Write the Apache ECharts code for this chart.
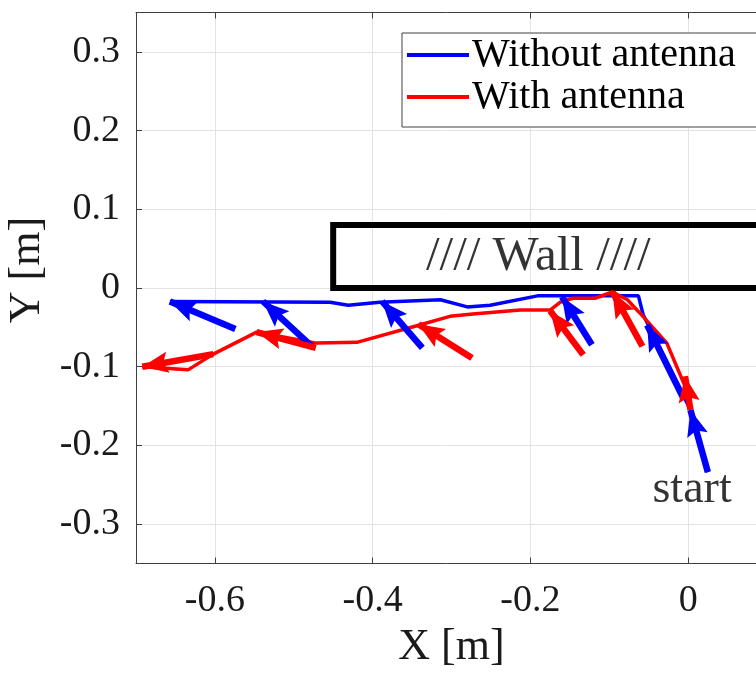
<!DOCTYPE html>
<html>
<head>
<meta charset="utf-8">
<title>Trajectory near wall</title>
<script src="https://cdn.jsdelivr.net/npm/echarts@6/dist/echarts.min.js"></script>
<style>
  html, body { margin: 0; padding: 0; background: #ffffff; }
  #chart { width: 756px; height: 675px; }
</style>
</head>
<body>
<div id="chart"></div>
<script>
// Axis ticks
const xTicks = [-0.6, -0.4, -0.2, 0];
const yTicks = [-0.3, -0.2, -0.1, 0, 0.1, 0.2, 0.3];

// Series names
const seriesNames = ['Without antenna', 'With antenna'];

// Walked path without antenna [x, y] in metres
const pathWithout = [
  [0.025, -0.234], [0.003, -0.155], [-0.057, -0.034], [-0.063, -0.010],
  [-0.162, -0.010], [-0.191, -0.010], [-0.251, -0.022], [-0.280, -0.024],
  [-0.314, -0.015], [-0.391, -0.018], [-0.431, -0.022], [-0.454, -0.018],
  [-0.657, -0.017]
];

// Walked path with antenna [x, y] in metres
const pathWith = [
  [0.003, -0.155], [-0.003, -0.127], [-0.027, -0.070], [-0.061, -0.032],
  [-0.077, -0.015], [-0.096, -0.005], [-0.118, -0.013], [-0.146, -0.013],
  [-0.162, -0.018], [-0.175, -0.028], [-0.213, -0.028], [-0.273, -0.033],
  [-0.302, -0.036], [-0.344, -0.048], [-0.420, -0.069], [-0.471, -0.070],
  [-0.547, -0.056], [-0.602, -0.084], [-0.634, -0.104], [-0.692, -0.100]
];

// Heading arrows [tailX, tailY, headX, headY]
const arrowsWithout = [
  [-0.574, -0.052, -0.657, -0.017],
  [-0.475, -0.076, -0.539, -0.017],
  [-0.337, -0.076, -0.388, -0.017],
  [-0.122, -0.072, -0.160, -0.011],
  [-0.006, -0.140, -0.052, -0.047],
  [0.025, -0.234, 0.003, -0.155]
];
const arrowsWith = [
  [-0.602, -0.084, -0.692, -0.100],
  [-0.472, -0.076, -0.547, -0.056],
  [-0.274, -0.089, -0.342, -0.046],
  [-0.133, -0.085, -0.175, -0.029],
  [-0.058, -0.074, -0.096, -0.005],
  [0.003, -0.155, -0.004, -0.112]
];

// Wall outline (open on the right) and annotations
const wallOutline = [[0.2, 0], [-0.45, 0], [-0.45, 0.08], [0.2, 0.08]];
const annotations = [
  { name: '//// Wall ////', value: [-0.19, 0.039], size: 49 },
  { name: 'start', value: [0.005, -0.257], size: 46 }
];

const FONT = '"Liberation Serif", "DejaVu Serif", serif';
const AXIS_COLOR = '#404040';
const GRID_COLOR = '#e3e3e3';
const TEXT_COLOR = '#1a1a1a';
const BLUE = '#0000ff';
const RED = '#ff0000';
// Arrowhead inside a square box: the two moveTo points fix the box so that the
// tip lands on the box centre (the arrow's end point).
const ARROW_HEAD = 'path://M0,0 M44,44 M22,22L31,44L22,40L13,44Z';
const ARROW_SIZE = 52;

const fmt = v => String(Math.round(v * 10) / 10);

function arrowData(list) {
  return list.map(a => ({ coords: [[a[0], a[1]], [a[2], a[3]]] }));
}

const chart = echarts.init(document.getElementById('chart'), null, { renderer: 'canvas' });

chart.setOption({
  animation: false,
  backgroundColor: '#ffffff',
  // plot box runs past the right edge of the page
  grid: { left: 136, top: 12.5, width: 631, height: 551, show: false, outerBoundsMode: 'none', containLabel: false },
  legend: {
    data: seriesNames,
    orient: 'vertical',
    left: 402, top: 33,
    backgroundColor: '#ffffff',
    borderColor: AXIS_COLOR, borderWidth: 1,
    padding: [2, 22, 10, 5],
    itemGap: 2,
    icon: 'rect',
    itemWidth: 62, itemHeight: 4,
    textStyle: { fontFamily: FONT, fontSize: 40, color: '#000', lineHeight: 40, padding: [0, 0, 0, -2] }
  },
  xAxis: [{
    type: 'value', min: -0.7, max: 0.1, interval: 0.1,
    name: 'X [m]', nameLocation: 'middle', nameGap: 37,
    nameTextStyle: { fontFamily: FONT, fontSize: 44, color: TEXT_COLOR },
    axisLine: { show: true, onZero: false, lineStyle: { color: AXIS_COLOR } },
    axisTick: { show: true, inside: true, length: 6, customValues: xTicks, lineStyle: { color: AXIS_COLOR } },
    axisLabel: { customValues: xTicks, formatter: fmt, margin: 19, fontFamily: FONT, fontSize: 38, color: TEXT_COLOR },
    splitLine: { show: true, customValues: xTicks, lineStyle: { color: GRID_COLOR, width: 1 } }
  }, {
    type: 'value', min: -0.7, max: 0.1, interval: 0.1, position: 'top',
    axisLine: { show: true, onZero: false, lineStyle: { color: AXIS_COLOR } },
    axisTick: { show: true, inside: true, length: 6, customValues: xTicks, lineStyle: { color: AXIS_COLOR } },
    axisLabel: { show: false },
    splitLine: { show: false }
  }],
  yAxis: [{
    type: 'value', min: -0.35, max: 0.35, interval: 0.05,
    name: 'Y [m]', nameLocation: 'middle', nameGap: 76,
    nameTextStyle: { fontFamily: FONT, fontSize: 44, color: TEXT_COLOR, padding: [0, 0, 0, 36] },
    axisLine: { show: true, onZero: false, lineStyle: { color: AXIS_COLOR } },
    axisTick: { show: true, inside: true, length: 6, customValues: yTicks, lineStyle: { color: AXIS_COLOR } },
    axisLabel: { customValues: yTicks, formatter: fmt, margin: 16, fontFamily: FONT, fontSize: 38, color: TEXT_COLOR },
    splitLine: { show: true, customValues: yTicks, lineStyle: { color: GRID_COLOR, width: 1 } }
  }],
  series: [
    {
      name: seriesNames[0], type: 'line', data: pathWithout,
      symbol: 'none', showSymbol: false, z: 3,
      lineStyle: { color: BLUE, width: 3.5 }, itemStyle: { color: BLUE }
    },
    {
      name: seriesNames[1], type: 'line', data: pathWith,
      symbol: 'none', showSymbol: false, z: 3,
      lineStyle: { color: RED, width: 3.5 }, itemStyle: { color: RED }
    },
    {
      name: 'wall', type: 'line', data: wallOutline,
      symbol: 'none', showSymbol: false, z: 2,
      lineStyle: { color: '#000', width: 6, join: 'miter', cap: 'square' }
    },
    {
      name: 'heading-without', type: 'lines', coordinateSystem: 'cartesian2d',
      data: arrowData(arrowsWithout), z: 4,
      symbol: ['none', ARROW_HEAD], symbolSize: ARROW_SIZE,
      lineStyle: { color: BLUE, width: 6.5, opacity: 1, curveness: 0 }
    },
    {
      name: 'heading-with', type: 'lines', coordinateSystem: 'cartesian2d',
      data: arrowData(arrowsWith), z: 4,
      symbol: ['none', ARROW_HEAD], symbolSize: ARROW_SIZE,
      lineStyle: { color: RED, width: 6.5, opacity: 1, curveness: 0 }
    },
    {
      name: 'notes', type: 'scatter', symbolSize: 0, z: 5,
      data: annotations.map(a => ({
        name: a.name, value: a.value,
        label: { show: true, position: 'inside', formatter: '{b}', fontFamily: FONT, fontSize: a.size, color: '#000' }
      }))
    }
  ]
});
</script>
</body>
</html>
